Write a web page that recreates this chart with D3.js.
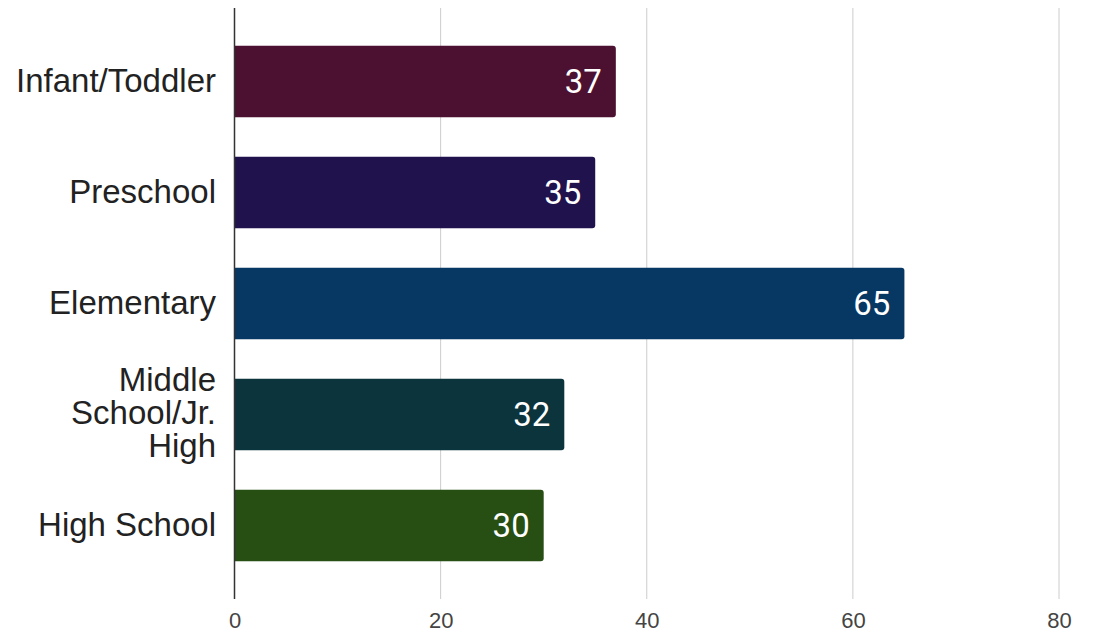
<!DOCTYPE html>
<html>
<head>
<meta charset="utf-8">
<script src="https://cdn.jsdelivr.net/npm/d3@7"></script>
<style>
  html, body { margin: 0; padding: 0; background: #fff; }
  svg { display: block; }
</style>
</head>
<body>
<svg id="chart" width="1095" height="632"></svg>
<script>
// Enrollment by grade level
const categories = ["Infant/Toddler", "Preschool", "Elementary", "Middle School/Jr. High", "High School"];
const labelLines = [["Infant/Toddler"], ["Preschool"], ["Elementary"], ["Middle", "School/Jr.", "High"], ["High School"]];
const values = [37, 35, 65, 32, 30];
const barColors = ["#4c1130", "#20124d", "#073763", "#0c343d", "#274e13"];
const xTicks = [0, 20, 40, 60, 80];

(function () {
  const svg = d3.select("#chart");
  const plotLeft = 234.5, plotRight = 1059, plotTop = 8, plotBottom = 599;

  const x = d3.scaleLinear().domain([0, 80]).range([plotLeft, plotRight]);
  const y = d3.scaleBand().domain(categories).range([26, 581]).paddingInner(0.355).paddingOuter(0.1775);

  // vertical gridlines
  svg.append("g").selectAll("line").data(xTicks.filter(d => d > 0)).join("line")
    .attr("x1", d => x(d)).attr("x2", d => x(d))
    .attr("y1", plotTop).attr("y2", plotBottom)
    .attr("stroke", "#cccccc").attr("stroke-width", 1);

  // bars with slightly rounded ends
  const r = 3;
  svg.append("g").selectAll("path").data(categories).join("path")
    .attr("fill", (d, i) => barColors[i])
    .attr("d", (d, i) => {
      const x0 = x(0), x1 = x(values[i]), y0 = y(d), h = y.bandwidth();
      return `M${x0},${y0} H${x1 - r} Q${x1},${y0} ${x1},${y0 + r} V${y0 + h - r} Q${x1},${y0 + h} ${x1 - r},${y0 + h} H${x0} Z`;
    });

  // value labels inside bar ends
  svg.append("g").selectAll("text").data(categories).join("text")
    .attr("x", (d, i) => x(values[i]) - 14)
    .attr("y", d => y(d) + y.bandwidth() / 2)
    .attr("dy", "0.36em")
    .attr("text-anchor", "end")
    .attr("fill", "#ffffff")
    .style("font-family", "Roboto, sans-serif")
    .style("font-size", "33px")
    .text((d, i) => values[i]);

  // category labels
  const lh = 33.3;
  const lab = svg.append("g").selectAll("text").data(categories).join("text")
    .attr("text-anchor", "end")
    .attr("fill", "#222222")
    .style("font-family", "'Liberation Sans', Arial, sans-serif")
    .style("font-size", "33px");
  lab.each(function (d, i) {
    const lines = labelLines[i];
    const cy = y(d) + y.bandwidth() / 2 - (lines.length > 1 ? 2 : 1);
    const t = d3.select(this);
    lines.forEach((ln, k) => {
      t.append("tspan")
        .attr("x", 216)
        .attr("y", cy + (k - (lines.length - 1) / 2) * lh)
        .attr("dy", "0.35em")
        .text(ln);
    });
  });

  // x axis tick labels
  const axis = d3.axisBottom(x).tickValues(xTicks).tickSize(0).tickPadding(0);
  const ga = svg.append("g").attr("transform", `translate(0,${plotBottom})`).call(axis);
  ga.select(".domain").remove();
  ga.selectAll("text")
    .attr("y", 21.5)
    .attr("dy", "0.35em")
    .attr("fill", "#444444")
    .style("font-family", "'Liberation Sans', Arial, sans-serif")
    .style("font-size", "22px");

  // baseline
  svg.append("line")
    .attr("x1", x(0)).attr("x2", x(0))
    .attr("y1", plotTop).attr("y2", plotBottom)
    .attr("stroke", "#333333").attr("stroke-width", 1.5);
})();
</script>
</body>
</html>
